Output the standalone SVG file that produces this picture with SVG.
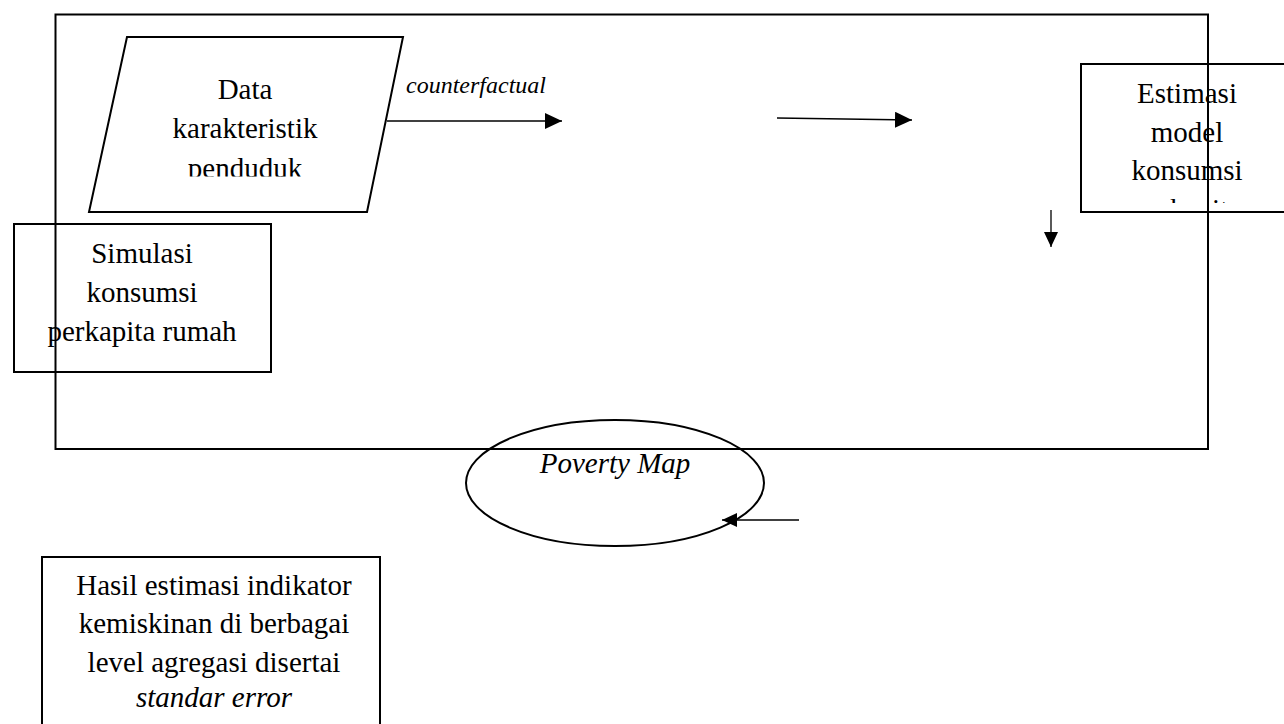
<svg xmlns="http://www.w3.org/2000/svg" width="1284" height="724" viewBox="0 0 1284 724">
<style>
.box{fill:none;stroke:#000;stroke-width:2}
.frame{fill:none;stroke:#000;stroke-width:2}
.conn{fill:none;stroke:#000;stroke-width:1.3}
.t{font-family:"Liberation Serif","Times New Roman",serif;font-size:29px;fill:#000;text-anchor:middle}
.i{font-style:italic}
</style>
<defs>
<marker id="ah" markerUnits="userSpaceOnUse" markerWidth="17" markerHeight="16" refX="17" refY="8" orient="auto">
<path d="M0,0 L17,8 L0,16 z" fill="#000"/>
</marker>
<marker id="ahs" markerUnits="userSpaceOnUse" markerWidth="15" markerHeight="14" refX="15" refY="7" orient="auto">
<path d="M0,0 L15,7 L0,14 z" fill="#000"/>
</marker>
<clipPath id="clipData"><rect x="80" y="30" width="340" height="146.5"/></clipPath>
<clipPath id="clipEst"><rect x="1060" y="60" width="224" height="143"/></clipPath>
</defs>
<rect width="1284" height="724" fill="#fff"/>

<g id="node-data">
<polygon class="box" points="127,37 403,37 367,212 89,212"/>
<g clip-path="url(#clipData)">
<text class="t" x="245" y="99">Data</text>
<text class="t" x="245" y="138">karakteristik</text>
<text class="t" x="245" y="178">penduduk</text>
</g>
</g>

<g id="node-estimasi">
<rect class="box" x="1081" y="64" width="215" height="148"/>
<g clip-path="url(#clipEst)">
<text class="t" x="1187" y="103">Estimasi</text>
<text class="t" x="1187" y="142">model</text>
<text class="t" x="1187" y="180">konsumsi</text>
<text class="t" x="1187" y="219">perkapita</text>
</g>
</g>

<g id="node-simulasi">
<rect class="box" x="14" y="224" width="257" height="148"/>
<text class="t" x="142" y="263">Simulasi</text>
<text class="t" x="142" y="302">konsumsi</text>
<text class="t" x="142" y="341">perkapita rumah</text>
</g>

<g id="node-povertymap">
<ellipse class="box" cx="615" cy="483" rx="149" ry="63"/>
<text class="t i" x="615" y="473">Poverty Map</text>
</g>

<g id="node-hasil">
<rect class="box" x="42" y="557" width="338" height="180"/>
<text class="t" x="214" y="595">Hasil estimasi indikator</text>
<text class="t" x="214" y="633">kemiskinan di berbagai</text>
<text class="t" x="214" y="672">level agregasi disertai</text>
<text class="t i" x="214" y="707">standar error</text>
</g>

<g id="connectors">
<line class="conn" x1="387" y1="121" x2="562" y2="121" marker-end="url(#ah)"/>
<text class="t i" x="406" y="93" style="font-size:24px;text-anchor:start">counterfactual</text>
<line class="conn" x1="777" y1="118" x2="912" y2="120" marker-end="url(#ah)"/>
<line class="conn" x1="1051" y1="210" x2="1051" y2="247" marker-end="url(#ahs)"/>
<line class="conn" x1="799" y1="520" x2="722" y2="520" marker-end="url(#ahs)"/>
</g>

<g id="frame">
<rect class="frame" x="55.5" y="14.5" width="1152.5" height="434.5"/>
</g>
</svg>
